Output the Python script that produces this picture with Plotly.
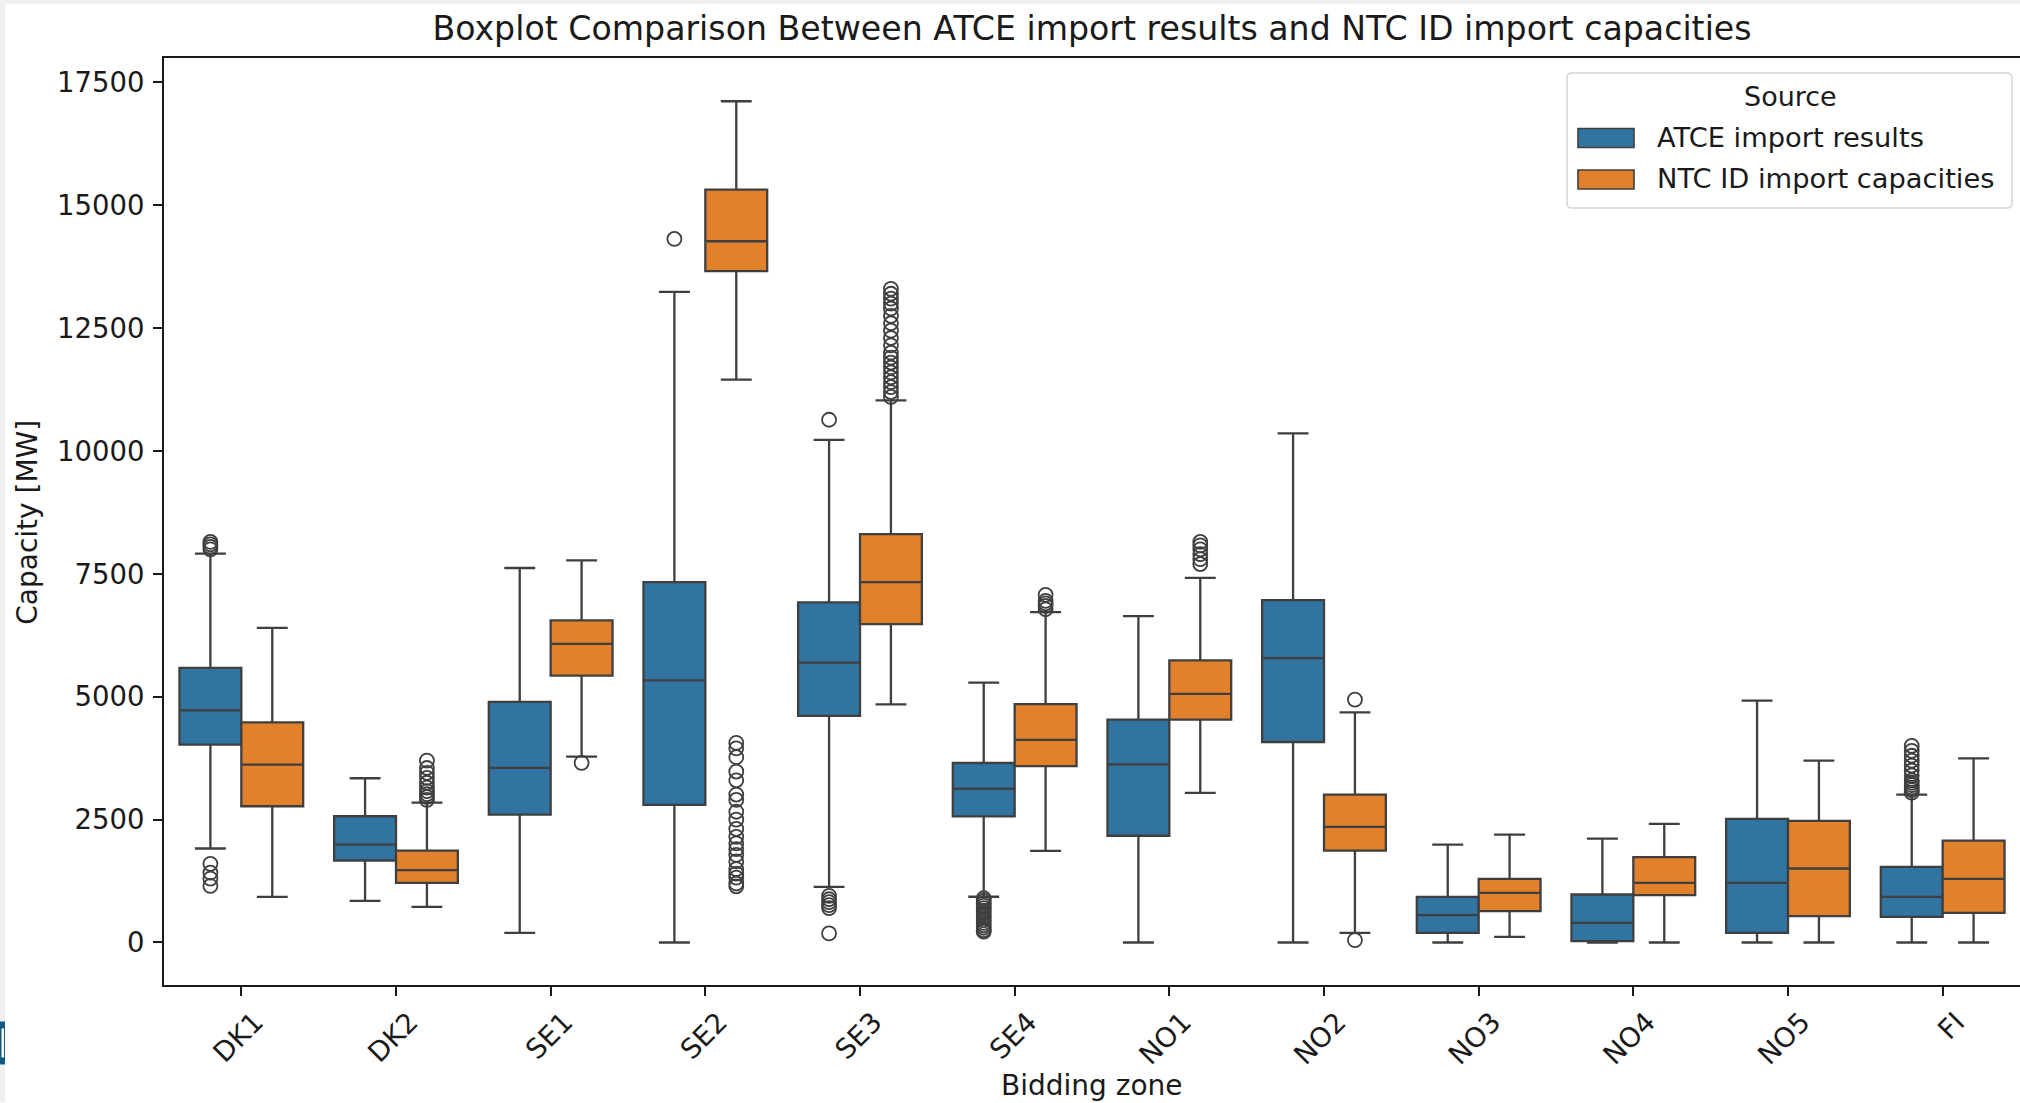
import plotly.graph_objects as go

zones = ["DK1", "DK2", "SE1", "SE2", "SE3", "SE4", "NO1", "NO2", "NO3", "NO4", "NO5", "FI"]

# ATCE import results (box statistics, MW)
atce_low = [1912, 848, 197, 0, 1131, 931, 0, 0, 0, 0, 0, 0]
atce_q1 = [4027, 1668, 2603, 2800, 4610, 2566, 2172, 4079, 197, 27, 197, 522]
atce_med = [4724, 1993, 3552, 5334, 5696, 3128, 3626, 5786, 555, 400, 1214, 929]
atce_q3 = [5586, 2569, 4895, 7331, 6922, 3652, 4533, 6967, 929, 976, 2515, 1539]
atce_high = [7911, 3342, 7620, 13239, 10227, 5287, 6640, 10361, 1993, 2115, 4921, 3010]
atce_out = [
    [8150, 8100, 8050, 8000, 1600, 1420, 1300, 1150],
    [], [], [14315],
    [10636, 950, 880, 820, 760, 700, 185],
    [900, 850, 800, 750, 700, 650, 600, 550, 500, 450, 400, 350, 300, 250, 220],
    [], [], [], [], [],
    [4000, 3900, 3800, 3700, 3600, 3500, 3400, 3300, 3250, 3200, 3150, 3100, 3050],
]

# NTC ID import capacities (box statistics, MW)
ntc_low = [929, 726, 3783, 11453, 4844, 1865, 3044, 197, 116, 0, 0, 0]
ntc_q1 = [2772, 1214, 5430, 13660, 6479, 3589, 4533, 1871, 637, 962, 535, 603]
ntc_med = [3620, 1471, 6074, 14268, 7331, 4124, 5060, 2353, 1010, 1214, 1505, 1295]
ntc_q3 = [4480, 1871, 6555, 15317, 8311, 4850, 5741, 3010, 1295, 1735, 2475, 2074]
ntc_high = [6400, 2847, 7775, 17117, 11032, 6721, 7420, 4684, 2196, 2413, 3701, 3748]
ntc_out = [
    [],
    [3700, 3550, 3450, 3350, 3250, 3150, 3080, 3020, 2960, 2900],
    [3654],
    [4061, 3950, 3770, 3478, 3300, 3010, 2900, 2660, 2500, 2310, 2150, 2017, 1900,
     1783, 1650, 1492, 1400, 1318, 1200, 1143],
    [13300, 13200, 13100, 13000, 12900, 12750, 12600, 12450, 12300, 12150, 12000,
     11900, 11800, 11700, 11600, 11500, 11400, 11300, 11200, 11100],
    [7075, 6950, 6900, 6850, 6780],
    [8150, 8080, 8000, 7900, 7800, 7700],
    [4942, 47],
    [], [], [], [],
]

y_ticks = [0, 2500, 5000, 7500, 10000, 12500, 15000, 17500]

FONT = "DejaVu Sans"
TXT = "#1a1a1a"
LINE = "#3f3f3f"
series = [
    ("ATCE import results", "#3274a1", -0.2, atce_low, atce_q1, atce_med, atce_q3, atce_high, atce_out),
    ("NTC ID import capacities", "#e1812c", 0.2, ntc_low, ntc_q1, ntc_med, ntc_q3, ntc_high, ntc_out),
]

W, H = 2020, 1103
ML, MR, MT, MB = 164, 0, 58, 117.5
pw = W - ML - MR
ph = H - MT - MB


def px(x):
    return (x - ML) / pw


def py(y):
    return (H - MB - y) / ph


fig = go.Figure()
for name, color, off, lo, q1, med, q3, hi, outs in series:
    xs = [i + off for i in range(len(zones))]
    fig.add_trace(go.Box(
        x=xs, q1=q1, median=med, q3=q3, lowerfence=lo, upperfence=hi,
        width=0.4, whiskerwidth=0.5, fillcolor=color,
        line=dict(color=LINE, width=2.3), name=name, boxpoints=False,
        showlegend=False, hoverinfo="skip",
    ))
    ox, oy = [], []
    for i, vals in enumerate(outs):
        for v in vals:
            ox.append(i + off)
            oy.append(v)
    fig.add_trace(go.Scatter(
        x=ox, y=oy, mode="markers", showlegend=False,
        marker=dict(symbol="circle-open", size=14, color=LINE, line=dict(width=1.8, color=LINE)),
    ))

# invisible helper trace that carries the label axis
fig.add_trace(go.Scatter(x=list(range(len(zones))), y=atce_med, xaxis="x2", mode="markers",
                         marker=dict(opacity=0), showlegend=False, hoverinfo="skip"))

label_shift = 0.09

# legend (drawn manually to match the matplotlib look)
lx0, lx1, ly0, ly1, r = 1567, 2012, 73, 208, 5
legend_path = (
    f"M {px(lx0 + r)} {py(ly0)} L {px(lx1 - r)} {py(ly0)} Q {px(lx1)} {py(ly0)} {px(lx1)} {py(ly0 + r)} "
    f"L {px(lx1)} {py(ly1 - r)} Q {px(lx1)} {py(ly1)} {px(lx1 - r)} {py(ly1)} "
    f"L {px(lx0 + r)} {py(ly1)} Q {px(lx0)} {py(ly1)} {px(lx0)} {py(ly1 - r)} "
    f"L {px(lx0)} {py(ly0 + r)} Q {px(lx0)} {py(ly0)} {px(lx0 + r)} {py(ly0)} Z"
)
shapes = [
    dict(type="rect", xref="paper", yref="paper", x0=px(0), x1=px(5),
         y0=py(H), y1=py(0), fillcolor="#f0f0f0", line=dict(width=0), layer="below"),
    dict(type="rect", xref="paper", yref="paper", x0=px(0), x1=px(W),
         y0=py(4), y1=py(0), fillcolor="#f0f0f0", line=dict(width=0), layer="below"),
    dict(type="rect", xref="paper", yref="paper", x0=px(0), x1=px(5),
         y0=py(1065), y1=py(1022), fillcolor="#0f5a85", line=dict(width=0)),
    dict(type="rect", xref="paper", yref="paper", x0=px(1.5), x1=px(4),
         y0=py(1058), y1=py(1029), fillcolor="#ffffff", line=dict(width=0)),
    dict(type="path", xref="paper", yref="paper", path=legend_path, fillcolor="rgba(255,255,255,0.85)",
         line=dict(color="#d6d6d6", width=1.5)),
]
annotations = [
    dict(text="Bidding zone", xref="paper", yref="paper", x=0.5, y=py(1086),
         xanchor="center", yanchor="middle", showarrow=False, font=dict(size=28)),
    dict(text="Capacity [MW]", xref="paper", yref="paper", x=px(28), y=py(523),
         xanchor="center", yanchor="middle", textangle=-90, showarrow=False, font=dict(size=28)),
    dict(text="Source", xref="paper", yref="paper", x=px(1790), y=py(97),
         xanchor="center", yanchor="middle", showarrow=False, font=dict(size=27)),
]
legend_rows = [(128.5, 147.5, 138), (170, 189, 179)]
for (name, color, *_), (p0, p1, ty) in zip(series, legend_rows):
    shapes.append(dict(type="rect", xref="paper", yref="paper", x0=px(1578), x1=px(1634),
                       y0=py(p1), y1=py(p0), fillcolor=color, line=dict(color=LINE, width=1.6)))
    annotations.append(dict(text=name, xref="paper", yref="paper", x=px(1655), y=py(ty),
                            xanchor="left", yanchor="middle", showarrow=False, font=dict(size=27.3)))

fig.update_layout(
    width=W, height=H,
    margin=dict(l=ML, r=MR, t=MT, b=MB, pad=0),
    paper_bgcolor="white", plot_bgcolor="white",
    font=dict(family=FONT, size=27, color=TXT),
    boxmode="overlay",
    title=dict(text="Boxplot Comparison Between ATCE import results and NTC ID import capacities",
               x=(ML + pw / 2) / W, xanchor="center", y=1 - 28 / H, yanchor="middle",
               font=dict(family=FONT, size=33.2, color=TXT)),
    xaxis=dict(range=[-0.5, len(zones) - 0.5], tickmode="array",
               tickvals=list(range(len(zones))), showticklabels=False,
               ticks="outside", ticklen=9, tickwidth=1.5, tickcolor=TXT,
               showline=True, linecolor=TXT, linewidth=1.8, mirror=True,
               showgrid=False, zeroline=False),
    xaxis2=dict(overlaying="x", anchor="y", side="bottom", range=[-0.5, len(zones) - 0.5],
                tickmode="array", tickvals=[i + label_shift for i in range(len(zones))],
                ticktext=zones, tickangle=-45, ticks="outside", ticklen=9,
                tickcolor="rgba(0,0,0,0)", showline=False, showgrid=False, zeroline=False,
                tickfont=dict(size=27.5)),
    yaxis=dict(range=[-865, 17997], tickmode="array", tickvals=y_ticks,
               ticktext=[str(v) for v in y_ticks],
               ticks="outside", ticklen=9, tickwidth=1.5, tickcolor=TXT,
               showline=True, linecolor=TXT, linewidth=1.8, ticklabelstandoff=3,
               showgrid=False, zeroline=False, tickfont=dict(size=27.5)),
    showlegend=False,
    annotations=annotations,
    shapes=shapes,
)

fig.write_html("out.html")
